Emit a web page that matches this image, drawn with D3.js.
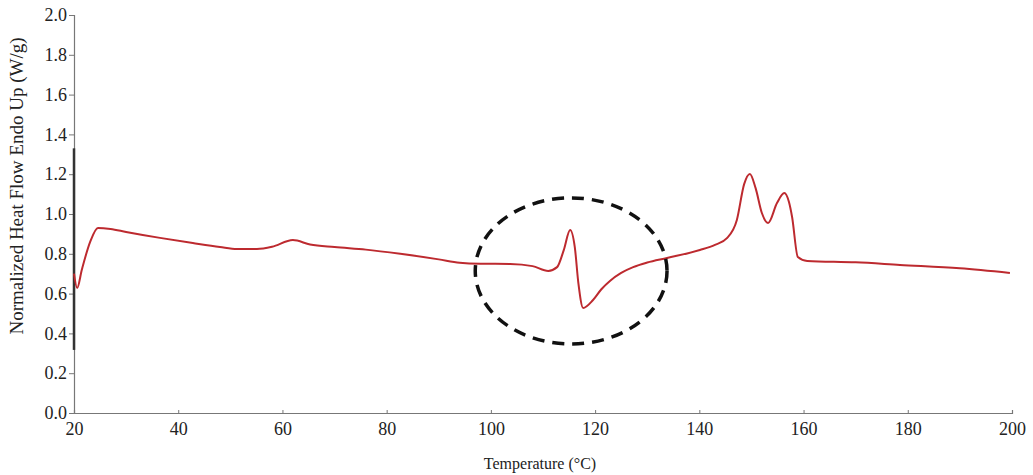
<!DOCTYPE html>
<html><head><meta charset="utf-8">
<script src="https://cdn.jsdelivr.net/npm/d3@7"></script>
<style>body{margin:0;background:#fff}svg{display:block}text{font-family:'Liberation Serif','Times New Roman',serif}</style>
</head><body><svg id="c" width="1033" height="475"></svg>
<script>
const temps = [20, 20.6, 21.5, 23.1, 24.6, 27, 30, 36.5, 42.8, 48, 51.3, 55.1, 58, 62, 65.3, 70, 76, 82.6, 90, 94, 98, 103.7, 108, 111, 112.7, 114, 115.2, 116.1, 116.8, 117.7, 119.6, 121.2, 122.9, 125, 127.3, 130, 133.8, 140.1, 143, 145.3, 147.2, 148.6, 149.7, 150.8, 152, 153.2, 154.9, 156.3, 157.2, 157.8, 158.9, 160.7, 170, 178.5, 190, 199.6];
const heatFlow = [0.70, 0.628, 0.72, 0.86, 0.93, 0.925, 0.91, 0.88, 0.854, 0.834, 0.824, 0.824, 0.835, 0.869, 0.847, 0.834, 0.821, 0.80, 0.772, 0.755, 0.75, 0.749, 0.738, 0.714, 0.733, 0.82, 0.92, 0.834, 0.65, 0.528, 0.568, 0.622, 0.665, 0.704, 0.733, 0.756, 0.779, 0.819, 0.845, 0.879, 0.97, 1.15, 1.201, 1.13, 1.005, 0.955, 1.055, 1.105, 1.06, 0.985, 0.784, 0.764, 0.757, 0.744, 0.727, 0.704];
const xTicks = [20, 40, 60, 80, 100, 120, 140, 160, 180, 200];
const yTicks = [0.0, 0.2, 0.4, 0.6, 0.8, 1.0, 1.2, 1.4, 1.6, 1.8, 2.0];
const xTitle = "Temperature (°C)";
const yTitle = "Normalized Heat Flow Endo Up (W/g)";
const highlight = {cx: 115.4, cy: 0.714, rx: 18.4, ry: 0.367};
const axisBar = [0.317, 1.33];

const svg = d3.select("#c");
const x = d3.scaleLinear().domain([20, 200]).range([74, 1012]);
const y = d3.scaleLinear().domain([0, 2]).range([413, 15]);
const font = "'Liberation Serif','Times New Roman',serif";

const gx = svg.append("g").attr("transform", "translate(0,413)")
  .call(d3.axisBottom(x).tickValues(xTicks).tickSize(-3).tickPadding(7).tickFormat(d3.format("d")));
const gy = svg.append("g").attr("transform", "translate(74,0)")
  .call(d3.axisLeft(y).tickValues(yTicks).tickSize(5).tickPadding(2).tickFormat(d3.format(".1f")));
[gx, gy].forEach(g => {
  g.attr("font-family", font);
  g.selectAll("path.domain").attr("stroke", "#777").attr("stroke-width", 1.2);
  g.selectAll(".tick line").attr("stroke", "#777");
  g.selectAll("text").style("font-family", font).attr("font-size", 18).attr("fill", "#222");
});
gx.selectAll("text").attr("dy", "0.85em");

svg.append("line").attr("x1", 74).attr("x2", 74)
  .attr("y1", y(axisBar[0])).attr("y2", y(axisBar[1]))
  .attr("stroke", "#333").attr("stroke-width", 2.5);

const line = d3.line().x((d, i) => x(temps[i])).y(d => y(d)).curve(d3.curveMonotoneX);
svg.append("path").datum(heatFlow).attr("d", line)
  .attr("fill", "none").attr("stroke", "#bd2a2f").attr("stroke-width", 2);

svg.append("ellipse")
  .attr("cx", x(highlight.cx)).attr("cy", y(highlight.cy))
  .attr("rx", x(20 + highlight.rx) - x(20)).attr("ry", y(0) - y(highlight.ry))
  .attr("fill", "none").attr("stroke", "#111").attr("stroke-width", 3.5)
  .attr("stroke-dasharray", "12,8");

svg.append("text").attr("x", 540).attr("y", 469).attr("text-anchor", "middle")
  .style("font-family", font).attr("font-size", 16).attr("fill", "#222").text(xTitle);
svg.append("text").attr("transform", "translate(23,186) rotate(-90)").attr("text-anchor", "middle")
  .style("font-family", font).attr("font-size", 19).attr("fill", "#222").text(yTitle);
</script></body></html>
